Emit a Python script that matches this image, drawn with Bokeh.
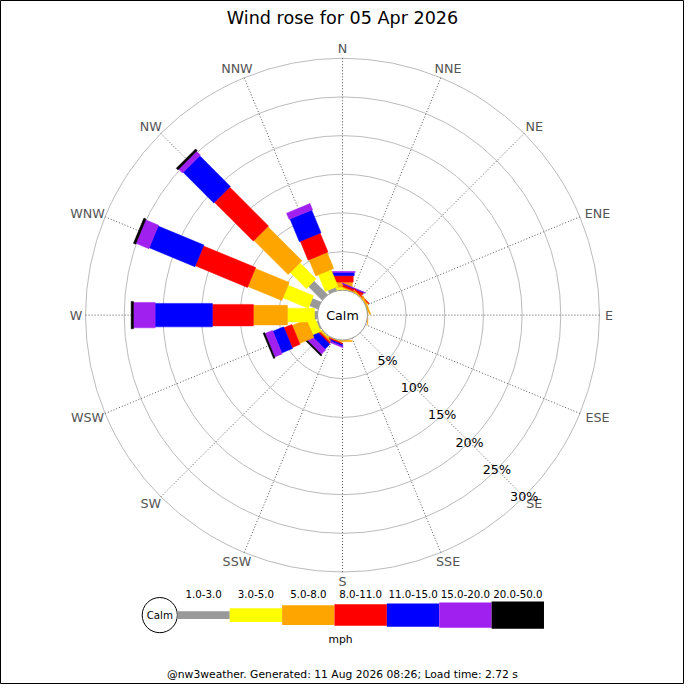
import math
from bokeh.plotting import figure
from bokeh.models import Range1d
from bokeh.embed import file_html
from bokeh.resources import INLINE
from bokeh.core.properties import value

# ---------------- data ----------------
directions = ["N", "NNE", "NE", "ENE", "E", "ESE", "SE", "SSE",
              "S", "SSW", "SW", "WSW", "W", "WNW", "NW", "NNW"]
speed_ranges = ["1.0-3.0", "3.0-5.0", "5.0-8.0", "8.0-11.0",
                "11.0-15.0", "15.0-20.0", "20.0-50.0"]
range_colors = ["#999999", "#ffff00", "#ffa500", "#ff0000",
                "#0000ff", "#a020f0", "#000000"]

# percentage of the day per direction, one list per speed range
pct_1_3   = [0.0, 0.0, 0.0, 0.0, 0.0, 0.0, 0.0, 0.0, 0.0, 0.0, 0.1, 0.2, 0.4, 1.2, 2.5, 0.45]
pct_3_5   = [0.4, 0.05, 0.05, 0.05, 0.0, 0.0, 0.0, 0.0, 0.05, 0.05, 0.1, 1.1, 3.5, 3.55, 2.95, 2.33]
pct_5_8   = [0.65, 0.15, 0.15, 0.15, 0.05, 0.0, 0.0, 0.0, 0.15, 0.1, 0.2, 2.0, 4.4, 4.75, 6.25, 2.26]
pct_8_11  = [0.83, 0.3, 0.1, 0.0, 0.0, 0.0, 0.0, 0.0, 0.0, 0.15, 0.2, 1.1, 5.3, 7.3, 7.1, 2.65]
pct_11_15 = [0.42, 0.05, 0.0, 0.0, 0.0, 0.0, 0.0, 0.0, 0.0, 0.2, 0.9, 1.5, 7.4, 6.4, 5.6, 3.17]
pct_15_20 = [0.13, 0.05, 0.0, 0.0, 0.0, 0.0, 0.0, 0.0, 0.0, 0.15, 0.8, 1.05, 2.8, 1.8, 0.7, 0.86]
pct_20_50 = [0.0, 0.0, 0.0, 0.0, 0.0, 0.0, 0.0, 0.0, 0.0, 0.0, 0.2, 0.2, 0.3, 0.3, 0.3, 0.0]
series = [pct_1_3, pct_3_5, pct_5_8, pct_8_11, pct_11_15, pct_15_20, pct_20_50]

ring_pcts = [5, 10, 15, 20, 25, 30]
title_text = "Wind rose for 05 Apr 2026"
unit_text = "mph"
footer_text = "@nw3weather. Generated: 11 Aug 2026 08:26; Load time: 2.72 s"

# ---------------- layout ----------------
SIZE = 684
S = SIZE / 700.0              # px per layout unit
R0 = 25.5                     # calm circle radius
RMAX = 263.0                  # radius of the 30 % ring
K = (RMAX - R0) / ring_pcts[-1]
bar_widths = [8, 14, 20, 22, 24, 26, 28]
FONT = value("DejaVu Sans")


def fs(px):
    return f"{px * S:.2f}px"


def rad(p):
    return R0 + K * p


def unit(i):
    a = math.radians(i * 22.5)
    return math.sin(a), math.cos(a)


p = figure(width=SIZE, height=SIZE, x_range=Range1d(-350, 350), y_range=Range1d(-378, 322),
           output_backend="svg", toolbar_location=None, min_border=0,
           x_axis_type=None, y_axis_type=None)
p.grid.visible = False
p.outline_line_color = "black"
p.background_fill_color = "white"
p.border_fill_color = "white"

# rings
p.circle(x=[0] * len(ring_pcts), y=[0] * len(ring_pcts), radius=[rad(r) for r in ring_pcts],
         fill_color=None, line_color="#bbbbbb", line_width=1)

# spokes
x0, y0, x1, y1 = [], [], [], []
for i in range(len(directions)):
    ux, uy = unit(i)
    x0.append(R0 * ux); y0.append(R0 * uy)
    x1.append(RMAX * ux); y1.append(RMAX * uy)
p.segment(x0, y0, x1, y1, line_color="#555555", line_dash="1 2", line_width=1)

# bars
xs, ys, cols = [], [], []
for i in range(len(directions)):
    ux, uy = unit(i)
    vx, vy = uy, -ux
    cum = 0.0
    for k, s in enumerate(series):
        v = s[i]
        if v <= 0:
            continue
        r1, r2 = rad(cum), rad(cum + v)
        cum += v
        h = bar_widths[k] / 2
        xs.append([r1 * ux + h * vx, r2 * ux + h * vx, r2 * ux - h * vx, r1 * ux - h * vx])
        ys.append([r1 * uy + h * vy, r2 * uy + h * vy, r2 * uy - h * vy, r1 * uy - h * vy])
        cols.append(range_colors[k])
p.patches(xs, ys, fill_color=cols, line_color=cols, line_width=0.5)

# calm circle
p.circle(x=[0], y=[0], radius=[R0], fill_color="white", line_color="#999999", line_width=1)
p.text(x=[0], y=[0], text=["Calm"], text_align="center", text_baseline="middle",
       text_font=FONT, text_font_size=fs(13), text_color="black")

# direction labels
lx, ly = [], []
for i, d in enumerate(directions):
    ux, uy = unit(i)
    w = len(d) * 9.6
    lx.append((RMAX + 5) * ux + w / 2 * ux)
    ly.append((RMAX + 5) * uy + 5 * uy)
p.text(x=lx, y=ly, text=directions, text_align="center", text_baseline="middle",
       text_font=FONT, text_font_size=fs(13), text_color="#555555")

# percentage labels along SE
ux, uy = unit(6)
p.text(x=[rad(r) * ux for r in ring_pcts], y=[rad(r) * uy for r in ring_pcts],
       text=[f"{r}%" for r in ring_pcts], text_align="center", text_baseline="middle",
       text_font=FONT, text_font_size=fs(13), text_color="black")

# title
p.text(x=[0], y=[304], text=[title_text], text_align="center", text_baseline="middle",
       text_font=FONT, text_font_size=fs(18), text_color="black")

# legend
LEG_X0, LEG_W, LEG_Y, LEG_LABEL_Y = -169.0, 53.6, -307.0, -285.0
p.circle(x=[LEG_X0 - 18], y=[LEG_Y], radius=[18], fill_color="white", line_color="black")
p.text(x=[LEG_X0 - 18], y=[LEG_Y], text=["Calm"], text_align="center", text_baseline="middle",
       text_font=FONT, text_font_size=fs(10.5), text_color="black")
lefts = [LEG_X0 + k * LEG_W for k in range(len(speed_ranges))]
p.quad(left=lefts, right=[l + LEG_W for l in lefts],
       top=[LEG_Y + w / 2 for w in bar_widths], bottom=[LEG_Y - w / 2 for w in bar_widths],
       fill_color=range_colors, line_color=None)
p.text(x=[l + LEG_W / 2 for l in lefts], y=[LEG_LABEL_Y] * len(lefts), text=speed_ranges,
       text_align="center", text_baseline="middle", text_font=FONT,
       text_font_size=fs(10.5), text_color="black")
p.text(x=[-2], y=[-332], text=[unit_text], text_align="center", text_baseline="middle",
       text_font=FONT, text_font_size=fs(11), text_color="black")

# footer
p.text(x=[0], y=[-368], text=[footer_text], text_align="center", text_baseline="middle",
       text_font=FONT, text_font_size=fs(11), text_color="black")

open("out.html", "w").write(file_html(p, INLINE))
